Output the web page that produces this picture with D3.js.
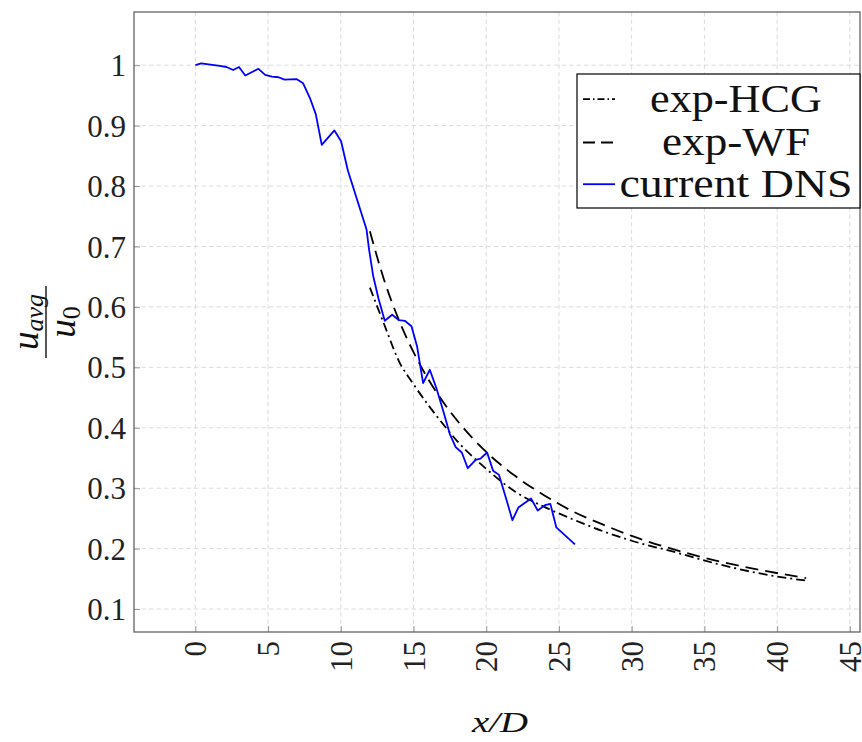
<!DOCTYPE html>
<html>
<head>
<meta charset="utf-8">
<script src="https://cdn.jsdelivr.net/npm/d3@7"></script>
<style>
  body { margin: 0; background: #fff; }
  svg { display: block; font-family: "Liberation Serif", "DejaVu Serif", serif; }
</style>
</head>
<body>
<div id="chart"></div>
<script>
// centreline velocity decay
const serif = '"Liberation Serif", "DejaVu Serif", serif';

const xTicks = [0, 5, 10, 15, 20, 25, 30, 35, 40, 45];
const yTicks = [0.1, 0.2, 0.3, 0.4, 0.5, 0.6, 0.7, 0.8, 0.9, 1];

// current DNS (blue)
const dnsX = [0, 0.4, 1.68, 2.14, 2.6, 3.0, 3.43, 4.34, 4.8, 5.26, 5.72, 6.13, 6.95, 7.41, 7.87,
  8.28, 8.69, 9.56, 10.02, 10.48, 11.77, 11.95, 12.22, 12.59, 13.02, 13.53, 14.0, 14.4, 14.86,
  15.25, 15.66, 16.12, 16.58, 17.03, 17.49, 17.9, 18.32, 18.73, 19.28, 19.6, 20.06, 20.47,
  20.88, 21.34, 21.8, 22.21, 23.08, 23.54, 24.04, 24.41, 24.82, 26.1];
const dnsY = [1.0, 1.003, 0.999, 0.997, 0.992, 0.997, 0.983, 0.994, 0.984, 0.981, 0.98, 0.976, 0.977,
  0.97, 0.946, 0.919, 0.868, 0.892, 0.874, 0.826, 0.728, 0.694, 0.652, 0.614, 0.577, 0.587,
  0.578, 0.577, 0.568, 0.534, 0.474, 0.496, 0.465, 0.429, 0.39, 0.368, 0.359, 0.333, 0.347,
  0.349, 0.359, 0.329, 0.322, 0.285, 0.247, 0.268, 0.283, 0.263, 0.272, 0.274, 0.235, 0.207];

// exp-HCG (dash-dot)
const hcgX = [12, 13, 14, 15, 16, 17, 18, 20, 22, 24, 26, 28, 30, 33, 36, 39, 42];
const hcgY = [0.632, 0.570, 0.510, 0.472, 0.438, 0.407, 0.378, 0.332, 0.294, 0.269, 0.248,
  0.229, 0.213, 0.194, 0.174, 0.158, 0.147];

// exp-WF (dashed)
const wfX = [12, 13, 14, 15, 16, 17, 18, 20, 22, 24, 26, 28, 30, 33, 36, 39, 42];
const wfY = [0.725, 0.643, 0.578, 0.525, 0.481, 0.444, 0.412, 0.360, 0.320, 0.288, 0.261,
  0.240, 0.221, 0.198, 0.179, 0.164, 0.151];

const legendLabels = ['exp-HCG', 'exp-WF', 'current DNS'];

const W = 862, H = 742;
const plot = {left: 134, right: 860, top: 12, bottom: 632};

const svg = d3.select('#chart').append('svg')
  .attr('width', W)
  .attr('height', H);

const x = d3.scaleLinear().domain([-4.22, 45.7]).range([plot.left, plot.right]);
const y = d3.scaleLinear().domain([0.062, 1.088]).range([plot.bottom, plot.top]);

// grid
const grid = svg.append('g')
  .attr('stroke', '#dcdcdc')
  .attr('stroke-width', 1)
  .attr('stroke-dasharray', '4.5,3');
grid.selectAll('.vg').data(xTicks).enter().append('line')
  .attr('x1', d => x(d)).attr('x2', d => x(d))
  .attr('y1', plot.top).attr('y2', plot.bottom);
grid.selectAll('.hg').data(yTicks).enter().append('line')
  .attr('x1', plot.left).attr('x2', plot.right)
  .attr('y1', d => y(d)).attr('y2', d => y(d));

// axes
const yAxis = svg.append('g')
  .attr('transform', `translate(${plot.left},0)`)
  .call(d3.axisLeft(y).tickValues(yTicks).tickSize(-6).tickPadding(8).tickFormat(d3.format('')));
yAxis.select('.domain').remove();
yAxis.selectAll('.tick line').attr('stroke', '#999');
yAxis.selectAll('.tick text')
  .style('font-family', serif)
  .style('font-size', '31px')
  .style('fill', '#222')
  .attr('dy', '0.34em');

const xAxis = svg.append('g')
  .attr('transform', `translate(0,${plot.bottom})`)
  .call(d3.axisBottom(x).tickValues(xTicks).tickSize(-6).tickPadding(9));
xAxis.select('.domain').remove();
xAxis.selectAll('.tick line').attr('stroke', '#999');
xAxis.selectAll('.tick text')
  .style('font-family', serif)
  .style('font-size', '31px')
  .style('fill', '#222')
  .attr('transform', 'rotate(-90)')
  .attr('text-anchor', 'end')
  .attr('x', -9)
  .attr('y', 0)
  .attr('dy', '0.34em');

// curves
svg.append('clipPath').attr('id', 'clip')
  .append('rect')
  .attr('x', plot.left).attr('y', plot.top)
  .attr('width', plot.right - plot.left).attr('height', plot.bottom - plot.top);

const lineGen = d3.line().x(d => x(d[0])).y(d => y(d[1]));
const smoothGen = d3.line().x(d => x(d[0])).y(d => y(d[1])).curve(d3.curveMonotoneX);

const curves = svg.append('g').attr('clip-path', 'url(#clip)').attr('fill', 'none');

curves.append('path')
  .datum(hcgX.map((v, i) => [v, hcgY[i]]))
  .attr('d', smoothGen)
  .attr('stroke', '#000')
  .attr('stroke-width', 1.8)
  .attr('stroke-dasharray', '9,4,2,4');

curves.append('path')
  .datum(wfX.map((v, i) => [v, wfY[i]]))
  .attr('d', smoothGen)
  .attr('stroke', '#000')
  .attr('stroke-width', 1.8)
  .attr('stroke-dasharray', '13,7');

curves.append('path')
  .datum(dnsX.map((v, i) => [v, dnsY[i]]))
  .attr('d', lineGen)
  .attr('stroke', '#0000ff')
  .attr('stroke-width', 1.8)
  .attr('stroke-linejoin', 'round');

// frame
svg.append('rect')
  .attr('x', plot.left).attr('y', plot.top)
  .attr('width', plot.right - plot.left).attr('height', plot.bottom - plot.top)
  .attr('fill', 'none')
  .attr('stroke', '#555')
  .attr('stroke-width', 1.2);

// legend
const legend = svg.append('g');
legend.append('rect')
  .attr('x', 577).attr('y', 74)
  .attr('width', 283).attr('height', 134)
  .attr('fill', '#fff')
  .attr('stroke', '#000')
  .attr('stroke-width', 1.2);

const legendStyles = [
  {stroke: '#000', dash: '7,3,1.5,3'},
  {stroke: '#000', dash: '12,6'},
  {stroke: '#0000ff', dash: null}
];
const rowY = [111.7, 155, 196.7];
const rowWidth = [172, 148, 233];

legendLabels.forEach((label, i) => {
  legend.append('line')
    .attr('x1', 583).attr('x2', 615)
    .attr('y1', rowY[i] - 12.5).attr('y2', rowY[i] - 12.5)
    .attr('stroke', legendStyles[i].stroke)
    .attr('stroke-width', 1.8)
    .attr('stroke-dasharray', legendStyles[i].dash);
  legend.append('text')
    .attr('x', 736)
    .attr('y', rowY[i])
    .attr('text-anchor', 'middle')
    .attr('textLength', rowWidth[i])
    .attr('lengthAdjust', 'spacingAndGlyphs')
    .style('font-size', '40px')
    .attr('fill', '#111')
    .text(label);
});

// axis labels
svg.append('text')
  .attr('x', 500)
  .attr('y', 732)
  .attr('text-anchor', 'middle')
  .attr('textLength', 56)
  .attr('lengthAdjust', 'spacingAndGlyphs')
  .style('font-size', '30px')
  .style('font-style', 'italic')
  .attr('fill', '#111')
  .text('x/D');

const yl = svg.append('g')
  .attr('transform', 'translate(46,322) rotate(-90)')
  .attr('fill', '#111')
  .style('font-style', 'italic');
const num = yl.append('text')
  .attr('x', 0).attr('y', -8)
  .attr('text-anchor', 'middle')
  .style('font-size', '37px');
num.append('tspan').text('u');
num.append('tspan').attr('dy', 5).style('font-size', '26px').text('avg');
yl.append('line')
  .attr('x1', -36).attr('x2', 36)
  .attr('y1', 0).attr('y2', 0)
  .attr('stroke', '#111')
  .attr('stroke-width', 1.4);
const den = yl.append('text')
  .attr('x', 0).attr('y', 29)
  .attr('text-anchor', 'middle')
  .style('font-size', '37px');
den.append('tspan').text('u');
den.append('tspan').attr('dy', 5).style('font-size', '26px').style('font-style', 'normal').text('0');
</script>
</body>
</html>
